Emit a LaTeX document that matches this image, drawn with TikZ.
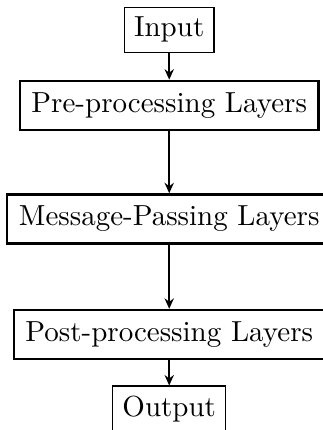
\documentclass[tikz,border=0pt]{standalone}
\usetikzlibrary{arrows.meta, positioning}

\tikzset{
  iobox/.style={draw, rectangle},
  layerbox/.style={draw, rectangle, thick, inner sep=4pt},
  flow/.style={-{Stealth[length=3.6pt, width=3.2pt]}, thick}
}

\begin{document}
\begin{tikzpicture}

  % Frame
  \useasboundingbox (-2.05,0.362) rectangle (1.856,-4.847);

  % Input and output
  \node[iobox] (input) at (0,0) {Input};
  \node[iobox] (output) at (0,-4.59) {Output};

  % Layers
  \node[layerbox] (pre) at (0,-0.914) {Pre-processing Layers};
  \node[layerbox] (mp) at (0,-2.29) {Message-Passing Layers};
  \node[layerbox] (post) at (0,-3.69) {Post-processing Layers};

  % Flow
  \draw[flow] (input) -- (pre);
  \draw[flow] (pre) -- (mp);
  \draw[flow] (mp) -- (post);
  \draw[flow] (post) -- (output);

\end{tikzpicture}
\end{document}
